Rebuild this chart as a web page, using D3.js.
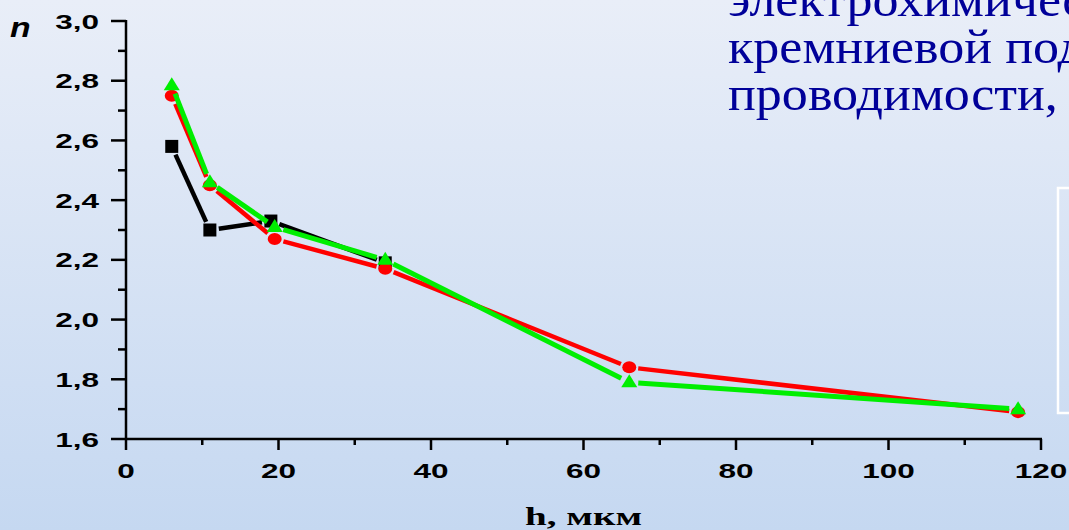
<!DOCTYPE html>
<html><head><meta charset="utf-8">
<script src="https://cdn.jsdelivr.net/npm/d3@7"></script>
<style>
html,body{margin:0;padding:0;overflow:hidden;}
svg{display:block;}
</style>
</head><body>
<script>
// ---- data ----
const hBlack = [6, 11, 19, 34];
const nBlack = [2.58, 2.30, 2.33, 2.19];
const hRed = [6, 11, 19.5, 34, 66, 117];
const nRed = [2.75, 2.45, 2.27, 2.17, 1.84, 1.69];
const hGreen = [6, 11, 19.5, 34, 66, 117];
const nGreen = [2.785, 2.46, 2.31, 2.20, 1.79, 1.70];
const xTicks = [0, 20, 40, 60, 80, 100, 120];
const yTicks = [1.6, 1.8, 2.0, 2.2, 2.4, 2.6, 2.8, 3.0];
const titleLines = ["электрохимической обработке", "кремниевой подложки", "проводимости,"];
const xLabel = "h, мкм";
const yLabel = "n";

const W = 1069, H = 530;
const svg = d3.select("body").append("svg").attr("width", W).attr("height", H);

const defs = svg.append("defs");
const grad = defs.append("linearGradient").attr("id", "bg").attr("x1", 0).attr("y1", 0).attr("x2", 0).attr("y2", 1);
grad.append("stop").attr("offset", "0%").attr("stop-color", "#e9eef8");
grad.append("stop").attr("offset", "100%").attr("stop-color", "#c5d8f1");
svg.append("rect").attr("width", W).attr("height", H).attr("fill", "url(#bg)");

// helper: horizontally stretched text
function sText(parent, px, py, str, sx, anchor) {
  return parent.append("text")
    .attr("transform", `translate(${px},${py}) scale(${sx},1)`)
    .attr("text-anchor", anchor || "start").text(str);
}

// title text
const tg = svg.append("g").attr("fill", "#000099")
  .attr("font-family", "'Liberation Serif', 'Times New Roman', serif").attr("font-size", 49);
const probe = tg.append("text").text(titleLines[2]);
const tsx = 330 / probe.node().getComputedTextLength();
probe.remove();
sText(tg, 728, 16, titleLines[0], tsx);
sText(tg, 728, 63, titleLines[1], tsx);
sText(tg, 728, 110, titleLines[2], tsx);

// legend box (mostly cut off)
svg.append("rect").attr("x", 1058).attr("y", 188).attr("width", 60).attr("height", 225)
  .attr("fill", "none").attr("stroke", "#ffffff").attr("stroke-width", 2.5);

const x = d3.scaleLinear().domain([0, 120]).range([126, 1041]);
const y = d3.scaleLinear().domain([1.6, 3.0]).range([439, 21]);

// axes
const axg = svg.append("g").attr("stroke", "#000").attr("stroke-width", 2.5).attr("fill", "none");
axg.append("line").attr("x1", x(0)).attr("x2", x(0)).attr("y1", y(3.0) - 1).attr("y2", y(1.6));
axg.append("line").attr("x1", x(0)).attr("x2", x(120) + 1).attr("y1", y(1.6)).attr("y2", y(1.6));
const yMinor = d3.range(1.7, 3.0, 0.2);
axg.selectAll(".ymaj").data(yTicks).join("line").attr("class", "ymaj")
  .attr("x1", x(0) - 15).attr("x2", x(0)).attr("y1", d => y(d)).attr("y2", d => y(d));
axg.selectAll(".ymin").data(yMinor).join("line").attr("class", "ymin")
  .attr("x1", x(0) - 8).attr("x2", x(0)).attr("y1", d => y(d)).attr("y2", d => y(d));
const xMinor = d3.range(10, 120, 20);
axg.selectAll(".xmaj").data(xTicks).join("line").attr("class", "xmaj")
  .attr("x1", d => x(d)).attr("x2", d => x(d)).attr("y1", y(1.6)).attr("y2", y(1.6) + 11);
axg.selectAll(".xmin").data(xMinor).join("line").attr("class", "xmin")
  .attr("x1", d => x(d)).attr("x2", d => x(d)).attr("y1", y(1.6)).attr("y2", y(1.6) + 6);

const lg = svg.append("g").attr("font-family", "'Liberation Sans', Arial, sans-serif")
  .attr("font-weight", "bold").attr("font-size", 21).attr("fill", "#000");
yTicks.forEach(d => sText(lg, 99, y(d) + 7.5, d.toFixed(1).replace(".", ","), 1.5, "end"));
xTicks.forEach(d => sText(lg, x(d), 478, String(d), 1.5, "middle"));

const yl = svg.append("g").attr("font-family", "'Liberation Sans', Arial, sans-serif")
  .attr("font-weight", "bold").attr("font-style", "italic").attr("font-size", 27);
sText(yl, 10, 37, yLabel, 1.25);

const xl = svg.append("g").attr("font-family", "'Liberation Serif', 'Times New Roman', serif")
  .attr("font-weight", "bold").attr("font-size", 25);
const p2 = xl.append("text").text(xLabel);
const xsx = 117 / p2.node().getComputedTextLength();
p2.remove();
sText(xl, (x(0) + x(120)) / 2, 525, xLabel, xsx, "middle");

// series
function drawSeries(hs, ns, color, width, marker) {
  const g = svg.append("g");
  const pts = hs.map((h, i) => [x(h), y(ns[i])]);
  const gap = 9;
  for (let i = 0; i < pts.length - 1; i++) {
    const [x1, y1] = pts[i], [x2, y2] = pts[i + 1];
    const dx = x2 - x1, dy = y2 - y1, L = Math.hypot(dx, dy);
    if (L <= 2 * gap) continue;
    const ux = dx / L, uy = dy / L;
    g.append("line")
      .attr("x1", x1 + ux * gap).attr("y1", y1 + uy * gap)
      .attr("x2", x2 - ux * gap).attr("y2", y2 - uy * gap)
      .attr("stroke", color).attr("stroke-width", width);
  }
  pts.forEach(([px, py]) => {
    if (marker === "square") {
      g.append("rect").attr("x", px - 6.5).attr("y", py - 6.5).attr("width", 13).attr("height", 13).attr("fill", color);
    } else if (marker === "circle") {
      g.append("ellipse").attr("cx", px).attr("cy", py).attr("rx", 7).attr("ry", 6).attr("fill", color);
    } else {
      g.append("path").attr("d", `M${px},${py - 8} L${px + 8},${py + 5} L${px - 8},${py + 5} Z`).attr("fill", color);
    }
  });
}
drawSeries(hBlack, nBlack, "#000000", 4.5, "square");
drawSeries(hRed, nRed, "#ff0000", 4.5, "circle");
drawSeries(hGreen, nGreen, "#00ee00", 5, "triangle");
</script>
</body></html>
